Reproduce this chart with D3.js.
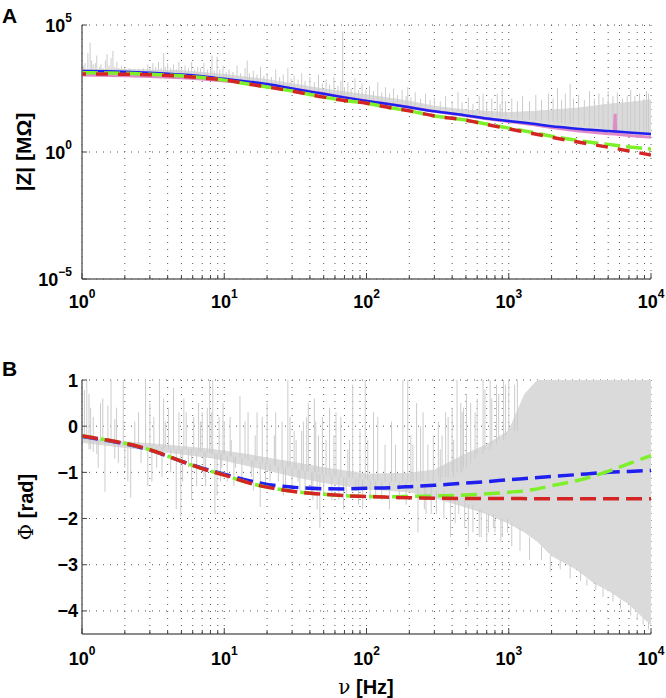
<!DOCTYPE html>
<html><head><meta charset="utf-8">
<script src="https://cdn.jsdelivr.net/npm/d3@7"></script>
<style>
body{margin:0;background:#fff}
text{font-family:Arial,"Liberation Sans",Helvetica,sans-serif;}
</style>
</head><body>
<svg id="c" width="666" height="698"></svg>
<script>
// ---------- DATA ----------
const fitF = [1,1.5,2,3,5,7,10,15,20,30,50,70,100,150,200,300,500,700,1000,1500,2000,3000,5000,7000,10000];
// log10 |Z| (MOhm)
const magBlue  = [3.19,3.18,3.16,3.12,3.05,2.98,2.88,2.77,2.68,2.50,2.29,2.15,2.01,1.87,1.76,1.60,1.44,1.32,1.22,1.11,1.01,0.92,0.83,0.77,0.71];
const magGreen = [3.12,3.11,3.10,3.06,3.00,2.93,2.83,2.67,2.56,2.40,2.16,2.03,1.92,1.73,1.62,1.42,1.26,1.10,0.94,0.76,0.62,0.46,0.30,0.20,0.12];
const magRed   = [3.07,3.07,3.06,3.04,2.98,2.92,2.83,2.67,2.56,2.40,2.16,2.03,1.92,1.73,1.62,1.42,1.25,1.08,0.91,0.72,0.58,0.40,0.19,0.04,-0.12];
const pinkF    = [1,2,3,5,7,10,15,20,30,50,70,100,150,200,300,500,700,1000,1500,2000,3000,5000,5500,5600,5650,7000,10000];
const magPink  = [3.03,3.00,2.97,2.92,2.87,2.80,2.72,2.64,2.49,2.29,2.15,2.01,1.87,1.76,1.60,1.43,1.31,1.20,1.07,0.96,0.84,0.72,0.71,1.50,0.70,0.65,0.58];
// phase (rad)
const phBlue  = [-0.22,-0.31,-0.38,-0.52,-0.76,-0.91,-1.04,-1.18,-1.26,-1.32,-1.355,-1.36,-1.345,-1.33,-1.31,-1.28,-1.23,-1.20,-1.16,-1.12,-1.09,-1.05,-1.00,-0.98,-0.96];
const phGreen = [-0.21,-0.30,-0.37,-0.51,-0.76,-0.92,-1.06,-1.23,-1.32,-1.41,-1.475,-1.505,-1.52,-1.53,-1.52,-1.51,-1.49,-1.465,-1.43,-1.37,-1.29,-1.18,-0.98,-0.81,-0.64];
const phRed   = [-0.21,-0.30,-0.37,-0.51,-0.76,-0.92,-1.06,-1.23,-1.32,-1.41,-1.475,-1.505,-1.525,-1.54,-1.55,-1.56,-1.565,-1.567,-1.568,-1.569,-1.57,-1.57,-1.57,-1.57,-1.57];

// measured data (grey): dense core band (lo/hi) + spikes [f, from, to]
const magBandF  = [1,2,5,10,20,50,100,200,300,500,700,1000,1500,2000,3000,5000,7000,10000];
const magBandLo = [3.17,3.15,3.05,2.90,2.69,2.30,2.00,1.75,1.60,1.42,1.31,1.19,1.07,0.98,0.88,0.78,0.72,0.66];
const magBandHi = [3.25,3.25,3.20,3.05,2.85,2.48,2.25,2.0,1.8,1.65,1.6,1.55,1.6,1.65,1.72,1.88,1.95,2.05];
const magSpikes = [[1.05,3.2,3.5],[1.1,3.2,3.9],[1.14,3.2,4.3],[1.2,3.2,3.45],[1.27,3.2,3.8],[1.36,3.2,3.45],[1.46,3.2,3.6],[1.5,3.2,3.85],[1.6,3.2,3.7],[1.65,3.2,3.98],[1.76,3.2,3.55],[1.9,3.2,3.4],[2.15,3.2,3.3],[2.5,3.18,3.28],[2.9,3.18,3.45],[3.15,3.18,3.5],[3.45,3.17,3.55],[3.75,3.16,3.9],[4.0,3.15,3.5],[4.4,3.14,3.45],[4.8,3.13,3.55],[5.3,3.1,3.4],[5.9,3.08,3.55],[6.5,3.05,3.35],[7.2,3.02,3.5],[8.0,3.0,3.3],[8.2,2.98,3.8],[8.9,2.97,3.75],[9.8,2.94,3.4],[10.8,2.92,3.25],[12.3,2.88,3.4],[14,2.84,3.3],[14.5,2.83,3.6],[16,2.8,3.2],[18,2.76,3.35],[20,2.72,3.1],[23,2.67,3.25],[26,2.62,3.05],[28,2.6,3.3],[31,2.56,3.0],[35,2.5,3.1],[40,2.45,2.95],[46,2.4,3.05],[52,2.35,2.85],[59,2.3,2.95],[66,2.25,2.8],[68,2.24,4.74],[74,2.2,2.75],[83,2.16,2.9],[93,2.12,2.7],[105,2.08,2.6],[120,2.02,2.75],[136,1.98,2.55],[155,1.94,2.5],[178,1.88,2.45],[195,1.86,2.55],[220,1.82,2.35],[260,1.76,2.3],[300,1.7,2.15],[360,1.64,2.2],[440,1.58,2.37],[520,1.52,2.15],[620,1.48,2.2],[660,1.46,2.3],[760,1.42,2.1],[830,1.4,2.3],[900,1.38,2.45],[1050,1.34,2.1],[1250,1.3,2.2],[1550,1.25,2.25],[1900,1.2,2.3],[2200,1.15,2.52],[2500,1.12,2.3],[2700,1.1,2.68],[3100,1.06,2.25],[3700,1.0,2.4],[4300,0.96,2.3],[5000,0.92,2.4],[5800,0.88,2.35],[6800,0.84,2.2],[7200,0.82,2.45],[8300,0.78,2.3],[9300,0.75,2.4],[9600,0.74,2.3],
 [1.02,3.2,3.4],[1.17,3.2,3.6],[1.24,3.2,3.5],[1.33,3.2,3.35],[1.41,3.2,3.3],[1.55,3.2,3.4],[1.7,3.2,3.35],[1.82,3.2,3.3],[2.0,3.2,3.3],[2.3,3.2,3.25],[2.7,3.18,3.3],[3.0,3.18,3.3],[3.3,3.17,3.35],[3.6,3.16,3.3],[3.85,3.16,3.35],[4.2,3.15,3.3],[4.6,3.13,3.25],[5.0,3.12,3.3],[5.6,3.09,3.3],[6.2,3.07,3.25],[6.8,3.04,3.3],[7.6,3.01,3.25],[8.5,2.98,3.2],[9.3,2.96,3.25],[10.3,2.93,3.15],[11.5,2.9,3.15],[13,2.86,3.1],[15,2.82,3.1],[17,2.78,3.05],[19,2.74,3.0],[21.5,2.7,2.95],[24.5,2.65,2.95],[29.5,2.58,2.9],[33,2.53,2.85],[37,2.48,2.8],[43,2.43,2.75],[49,2.37,2.7],[55,2.32,2.65],[63,2.27,2.6],[70,2.22,2.55],[78,2.18,2.5],[88,2.14,2.45],[99,2.1,2.45],[112,2.05,2.4],[128,2.0,2.35],[145,1.96,2.3],[165,1.92,2.25],[190,1.87,2.2],[205,1.84,2.15],[240,1.79,2.1],[280,1.72,2.05],[330,1.66,2.0],[400,1.6,2.0],[470,1.54,1.95],[560,1.5,1.9],[700,1.44,1.95],[870,1.39,1.9],[950,1.37,2.0],[1150,1.32,2.0],[1400,1.27,2.0],[1700,1.22,2.05],[2050,1.17,2.1],[2350,1.13,2.05],[2850,1.08,2.1],[3400,1.03,2.05],[4000,0.98,2.1],[4600,0.94,2.15],[5400,0.9,2.2],[6300,0.86,2.1],[7700,0.8,2.2],[8900,0.76,2.1]];

const phBandF  = [1,2,3,5,8,10,15,20,30,50,100,200,300,500,700,1000,1300,1600,2000,3000,4000,5000,7000,8500,10000];
const phBandLo = [-0.35,-0.46,-0.52,-0.6,-0.68,-0.74,-0.86,-0.95,-1.08,-1.22,-1.36,-1.42,-1.55,-1.75,-1.9,-2.1,-2.3,-2.5,-2.8,-3.1,-3.4,-3.55,-3.85,-4.1,-4.3];
const phBandHi = [-0.25,-0.34,-0.38,-0.44,-0.5,-0.54,-0.62,-0.69,-0.78,-0.9,-1.04,-1.02,-0.95,-0.6,-0.4,-0.1,0.7,1,1,1,1,1,1,1,1];
const phSpikes = [[1.0,-0.66,-0.3],[1.04,-0.3,0.78],[1.08,-0.3,1],[1.12,-0.5,0.7],[1.2,-0.55,0.2],[1.27,-0.6,-0.3],[1.35,-0.35,0.5],[1.45,-1.42,-0.35],[1.52,-0.35,0.45],[1.6,-0.35,1],[1.7,-0.7,0.15],[1.8,-0.8,-0.35],[1.95,-0.4,1],[2.1,-1.2,-0.4],[2.2,-1.55,-0.4],[2.35,-0.4,0.1],[2.6,-0.8,-0.4],[2.8,-0.45,1],[2.9,-1.3,-0.45],[3.2,-0.45,0.2],[3.35,-0.9,-0.45],[3.5,-0.45,1],[3.65,-1.1,-0.45],[3.85,-0.45,0.1],[4.2,-1.0,-0.5],[4.4,-0.5,0.83],[4.6,-1.8,-0.5],[4.8,-0.5,0.3],[4.95,-1.96,-0.5],[5.4,-0.5,0.3],[5.6,-0.9,-0.5],[5.9,-1.6,-0.5],[6.1,-0.55,0.2],[6.8,-0.55,0.1],[7.2,-1.1,-0.55],[7.6,-0.58,0.4],[7.9,-0.58,1],[8.3,-0.6,1],[8.6,-1.9,-0.6],[8.9,-1.5,-0.6],[9.2,-0.6,0.2],[9.6,-0.9,-0.6],[10.0,-0.62,0.1],[10.5,-1.2,-0.64],[11.2,-0.65,-0.3],[12.0,-0.9,-0.66],[12.9,-0.68,0.65],[14.7,-0.72,0.3],[15.5,-1.1,-0.74],[16.5,-0.75,-0.2],[17.9,-1.75,-0.78],[20,-0.82,0.5],[21,-1.2,-0.83],[22.5,-0.85,-0.2],[24,-1.2,-0.88],[25.5,-0.9,0.1],[27,-1.3,-0.9],[28,-0.9,1],[30,-1.3,-0.92],[32,-0.93,-0.3],[34,-1.4,-0.95],[36,-0.96,0.1],[39,-0.98,0.5],[41,-1.5,-1.0],[43,-1.0,0.6],[45,-1.8,-1.02],[47,-2.2,-1.03],[49,-1.04,0.2],[55,-1.06,0.4],[61,-1.08,0.3],[64,-1.6,-1.1],[72,-1.5,-1.12],[76,-1.12,-0.3],[80,-1.13,0.9],[88,-1.7,-1.15],[98,-1.15,1],[106,-1.6,-1.18],[120,-1.18,0.2],[128,-1.6,-1.2],[145,-1.8,-1.2],[160,-1.2,-0.4],[180,-1.2,1],[195,-1.2,1],[212,-1.2,-0.4],[225,-1.2,0.5],[230,-2.3,-1.3],[255,-1.8,-1.3],[270,-1.2,-0.4],[285,-1.9,-1.3],[295,-1.2,-0.2],[330,-1.2,-0.5],[350,-2.0,-1.4],[375,-1.1,0.2],[390,-2.4,-1.5],[410,-1.1,-0.3],[433,-1.0,1],[460,-1.0,0.5],[470,-1.0,0.3],[490,-2.2,-1.6],[520,-2.6,-1.7],[540,-0.8,0.5],[600,-0.6,0.6],[640,-2.4,-1.8],[680,-0.5,0.8],[720,-2.3,-1.9],[760,-0.4,0.6],[800,-2.3,-2.0],[850,-0.3,0.7],[900,-2.4,-2.0],[950,-0.2,0.9],[1000,-0.1,1],[1050,-2.6,-2.1],[1100,-0.1,0.9],[1150,-0.1,1],[1200,-2.7,-2.2],[1400,-2.9,-2.4],[1700,-2.9,-2.6],[1960,-3.15,-2.8],[2300,-3.1,-2.9],[2700,-3.3,-3.0],[3200,-3.35,-3.15],[3540,-3.45,-3.3],[4100,-3.55,-3.4],[4600,-3.7,-3.5],[5400,-3.8,-3.6],[6100,-3.95,-3.75],[7200,-4.1,-3.9],[8000,-4.2,-4.05],[8800,-4.3,-4.15],[9600,-4.4,-4.25],
 [1.15,-0.5,0.4],[1.3,-0.9,-0.3],[1.4,-0.3,0.6],[1.75,-0.35,0.4],[2.0,-0.9,-0.4],[2.5,-0.4,0.3],[3.0,-0.45,0.5],[3.1,-1.2,-0.45],[3.75,-0.5,0.6],[4.05,-0.5,0.4],[5.1,-1.2,-0.5],[5.2,-0.5,0.6],[6.4,-1.3,-0.55],[6.6,-0.55,0.5],[7.0,-0.55,0.3],[7.4,-1.3,-0.57],[8.1,-0.6,0.3],[9.4,-1.2,-0.6],[9.8,-0.6,0.5],[11,-0.65,0.2],[11.7,-1.3,-0.66],[13.3,-1.2,-0.7],[14,-0.7,0.1],[16,-1.4,-0.76],[17,-0.76,0.3],[18.5,-0.8,0.2],[19.5,-1.3,-0.8],[23,-0.86,0.3],[26,-1.5,-0.89],[29,-0.9,0.2],[31,-0.92,-0.1],[33,-1.2,-0.94],[35,-0.95,-0.1],[37,-1.5,-0.97],[38,-0.98,0.2],[42,-1.6,-1.0],[44,-1.0,0.1],[46,-1.0,-0.2],[50,-1.5,-1.05],[52,-1.04,-0.3],[57,-1.6,-1.07],[59,-1.07,-0.2],[66,-1.1,0.2],[69,-1.8,-1.11],[74,-1.11,-0.5],[84,-1.4,-1.14],[90,-1.14,-0.1],[94,-1.8,-1.15],[102,-1.16,-0.3],[112,-1.17,0.3],[116,-1.5,-1.18],[135,-1.2,-0.4],[150,-1.2,0.1],[170,-1.6,-1.2],[190,-1.7,-1.2],[205,-1.2,-0.2],[240,-1.2,0.0],[250,-1.2,0.3],[262,-1.9,-1.3],[310,-1.9,-1.4],[320,-1.1,0.1],[340,-1.1,-0.2],[360,-1.1,0.3],[400,-1.0,0.4],[420,-2.1,-1.6],[445,-1.9,-1.6],[480,-0.9,0.4],[505,-0.9,0.7],[560,-2.3,-1.7],[580,-0.7,0.3],[620,-2.4,-1.8],[660,-0.6,1],[700,-2.5,-1.9],[740,-0.5,1],[780,-2.2,-1.9],[820,-0.4,0.9],[880,-2.5,-2.0],[920,-0.3,1],[980,-2.3,-2.0]];

const magTicks = [-5,0,5];          // exponents
const phTicks  = [1,0,-1,-2,-3,-4];
const xTickExp = [0,1,2,3,4];

// ---------- LAYOUT ----------
const svg = d3.select("#c");
const X0 = 82, X1 = 651;
const x = d3.scaleLog().domain([1,1e4]).range([X0,X1]);
const yMag = d3.scaleLog().domain([1e-5,1e5]).range([279,25]);
const yPh  = d3.scaleLinear().domain([-4.5,1]).range([634,380]);

const COL = {blue:"#1f1ff0", green:"#7ef02a", red:"#d42424", pink:"#e08ac8", grey:"#cbcbcb", band:"#dadada"};
const xMinor = x.ticks();

function panel(yTop, yBot, yVals, yPos, clipId){
  const g = svg.append("g");
  g.selectAll(".vg").data(xMinor).enter().append("line")
    .attr("x1",d=>x(d)).attr("x2",d=>x(d)).attr("y1",yTop).attr("y2",yBot)
    .attr("stroke","#555").attr("stroke-width",1).attr("stroke-dasharray","1,6");
  g.selectAll(".hg").data(yVals).enter().append("line")
    .attr("x1",X0).attr("x2",X1).attr("y1",d=>yPos(d)).attr("y2",d=>yPos(d))
    .attr("stroke","#555").attr("stroke-width",1).attr("stroke-dasharray","1,6");
  svg.append("clipPath").attr("id",clipId).append("rect")
    .attr("x",X0).attr("y",yTop).attr("width",X1-X0).attr("height",yBot-yTop);
}
function axes(yTop, yBot, yVals, yPos){
  const g = svg.append("g");
  g.append("line").attr("x1",X0).attr("x2",X0).attr("y1",yTop).attr("y2",yBot).attr("stroke","#666").attr("stroke-width",1.5);
  g.append("line").attr("x1",X0).attr("x2",X1).attr("y1",yBot).attr("y2",yBot).attr("stroke","#666").attr("stroke-width",1.5);
  g.selectAll(".xt").data(xMinor).enter().append("line")
    .attr("x1",d=>x(d)).attr("x2",d=>x(d)).attr("y1",yBot)
    .attr("y2",d=> Math.abs(Math.log10(d)-Math.round(Math.log10(d)))<1e-9 ? yBot-6 : yBot-4)
    .attr("stroke","#444").attr("stroke-width",1);
  g.selectAll(".yt").data(yVals).enter().append("line")
    .attr("x1",X0).attr("x2",X0+5).attr("y1",d=>yPos(d)).attr("y2",d=>yPos(d))
    .attr("stroke","#444").attr("stroke-width",1);
}
function xLabels(base){
  xTickExp.forEach(e=>{
    const t = svg.append("text").attr("x",x(Math.pow(10,e))).attr("y",base)
      .attr("text-anchor","middle").attr("font-size",18).attr("font-weight","bold");
    t.append("tspan").text("10");
    t.append("tspan").attr("dy",-10).attr("font-size",12).text(e);
  });
}
function grey(g, bandF, lo, hi, spikes, yv){
  g.append("path").datum(bandF.map((f,i)=>[f,lo[i],hi[i]]))
    .attr("d",d3.area().x(d=>x(d[0])).y0(d=>yv(d[1])).y1(d=>yv(d[2])))
    .attr("fill",COL.band).attr("stroke",COL.band).attr("stroke-width",1);
  g.selectAll(".sp").data(spikes).enter().append("line")
    .attr("x1",d=>x(d[0])).attr("x2",d=>x(d[0]))
    .attr("y1",d=>yv(d[1])).attr("y2",d=>yv(d[2]))
    .attr("stroke",COL.grey).attr("stroke-width",1);
}

// ===== Panel A =====
const magPos = e => yMag(Math.pow(10,e));
panel(25, 279, magTicks, magPos, "clipA");
const gA = svg.append("g").attr("clip-path","url(#clipA)");
grey(gA, magBandF, magBandLo, magBandHi, magSpikes, magPos);
const lineMag = d3.line().x(d=>x(d[0])).y(d=>magPos(d[1])).curve(d3.curveMonotoneX);
gA.append("path").datum(pinkF.map((f,i)=>[f,magPink[i]])).attr("d",d3.line().x(d=>x(d[0])).y(d=>magPos(d[1])))
  .attr("fill","none").attr("stroke",COL.pink).attr("stroke-width",3);
gA.append("path").datum(fitF.map((f,i)=>[f,magBlue[i]])).attr("d",lineMag)
  .attr("fill","none").attr("stroke",COL.blue).attr("stroke-width",2.5);
gA.append("path").datum(fitF.map((f,i)=>[f,magGreen[i]])).attr("d",lineMag)
  .attr("fill","none").attr("stroke",COL.green).attr("stroke-width",3.5).attr("stroke-dasharray","16,6");
gA.append("path").datum(fitF.map((f,i)=>[f,magRed[i]])).attr("d",lineMag)
  .attr("fill","none").attr("stroke",COL.red).attr("stroke-width",3.5).attr("stroke-dasharray","12,10").attr("stroke-dashoffset",8);
axes(25, 279, magTicks, magPos);
xLabels(308);
magTicks.forEach(e=>{
  const t = svg.append("text").attr("x",72).attr("y",magPos(e)+7)
    .attr("text-anchor","end").attr("font-size",18).attr("font-weight","bold");
  t.append("tspan").text("10");
  t.append("tspan").attr("dy",-10).attr("font-size",12).text(e<0?"\u2212"+(-e):e);
});
svg.append("text").attr("transform","translate(31,152) rotate(-90)").attr("text-anchor","middle")
  .attr("font-size",21).attr("font-weight","bold").text("|Z| [M\u03A9]");
svg.append("text").attr("x",2).attr("y",23).attr("font-size",21).attr("font-weight","bold").text("A");

// ===== Panel B =====
panel(380, 634, phTicks, yPh, "clipB");
const gB = svg.append("g").attr("clip-path","url(#clipB)");
grey(gB, phBandF, phBandLo, phBandHi, phSpikes, yPh);
const linePh = d3.line().x(d=>x(d[0])).y(d=>yPh(d[1])).curve(d3.curveMonotoneX);
[[phBlue,COL.blue,0],[phGreen,COL.green,4],[phRed,COL.red,0]].forEach(([arr,c,off])=>{
  gB.append("path").datum(fitF.map((f,i)=>[f,arr[i]])).attr("d",linePh)
    .attr("fill","none").attr("stroke",c).attr("stroke-width",3.5)
    .attr("stroke-dasharray","16,7").attr("stroke-dashoffset",off);
});
axes(380, 634, phTicks, yPh);
xLabels(665);
phTicks.forEach(v=>{
  svg.append("text").attr("x",78).attr("y",yPh(v)+6.5)
    .attr("text-anchor","end").attr("font-size",18).attr("font-weight","bold")
    .text(v<0?"\u2212"+(-v):v);
});
const yl = svg.append("text").attr("transform","translate(33,507) rotate(-90)").attr("text-anchor","middle")
  .attr("font-size",20).attr("font-weight","bold");
yl.append("tspan").attr("font-weight","normal").attr("font-family","'DejaVu Serif',serif").text("\u03A6");
yl.append("tspan").text(" [rad]");
const xl = svg.append("text").attr("x",366).attr("y",694).attr("text-anchor","middle")
  .attr("font-size",20).attr("font-weight","bold");
xl.append("tspan").attr("font-weight","normal").attr("font-family","'DejaVu Serif',serif").text("\u03BD");
xl.append("tspan").text(" [Hz]");
svg.append("text").attr("x",2).attr("y",376).attr("font-size",21).attr("font-weight","bold").text("B");
</script>
</body></html>
